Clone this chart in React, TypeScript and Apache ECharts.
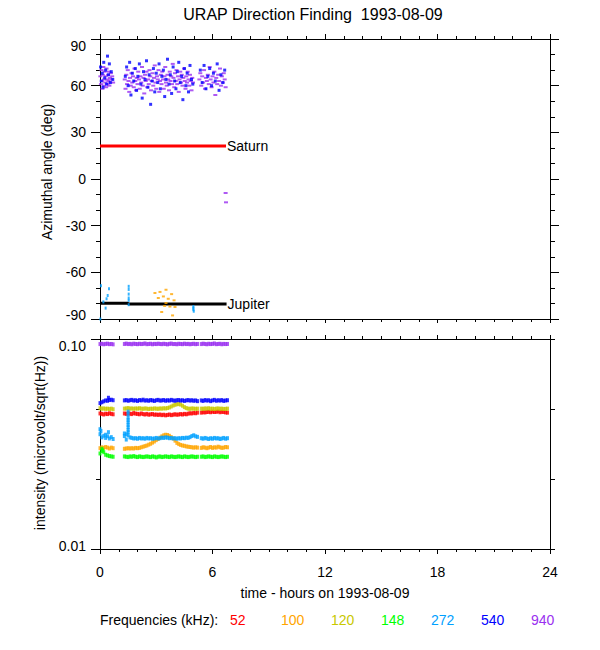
import React, { useEffect, useRef } from "react";
import * as echarts from "echarts";

// ---------- DATA ----------
const FREQ_LABELS = ["52", "100", "120", "148", "272", "540", "940"];
const FREQ_COLORS = ["#ff0000", "#ffa500", "#c8c800", "#00ff00", "#00a0ff", "#0000ff", "#9a30f0"];
const X_TICKS = [0, 6, 12, 18, 24];
const AZ_TICKS = [-90, -60, -30, 0, 30, 60, 90];

// azimuth scatter points [hours, deg]
const AZ_940 = [
  [0.02, 66], [0.05, 61], [0.08, 70], [0.1, 63], [0.13, 58], [0.15, 67], [0.18, 72], [0.2, 60], [0.22, 64], [0.25, 69],
  [0.28, 62], [0.3, 66], [0.33, 59], [0.35, 71], [0.38, 64], [0.4, 61], [0.43, 67], [0.45, 63], [0.48, 69], [0.5, 60],
  [0.53, 65], [0.55, 62], [0.58, 68], [0.6, 64], [0.65, 66], [0.7, 62],
  [1.32, 64], [1.36, 58], [1.4, 67], [1.44, 61], [1.48, 70], [1.52, 63], [1.56, 56], [1.6, 65], [1.64, 60], [1.68, 68],
  [1.72, 62], [1.76, 66], [1.8, 59], [1.84, 71], [1.88, 63], [1.92, 57], [1.96, 65], [2.0, 61], [2.04, 69], [2.08, 64],
  [2.12, 58], [2.16, 66], [2.2, 62], [2.24, 72], [2.28, 60], [2.32, 65], [2.36, 55], [2.4, 67], [2.44, 63], [2.48, 69],
  [2.52, 59], [2.56, 64], [2.6, 61], [2.64, 70], [2.68, 66], [2.72, 57], [2.76, 63], [2.8, 68], [2.84, 60], [2.88, 65],
  [2.92, 73], [2.96, 62], [3.0, 58], [3.04, 66], [3.08, 64], [3.12, 70], [3.16, 56], [3.2, 63], [3.24, 67], [3.28, 61],
  [3.32, 69], [3.36, 64], [3.4, 58], [3.44, 66], [3.48, 72], [3.52, 62], [3.56, 60], [3.6, 67], [3.64, 64], [3.68, 57],
  [3.72, 69], [3.76, 63], [3.8, 66], [3.84, 61], [3.88, 74], [3.92, 65], [3.96, 59], [4.0, 68], [4.04, 63], [4.08, 70],
  [4.12, 61], [4.16, 66], [4.2, 56], [4.24, 64], [4.28, 69], [4.32, 62], [4.36, 67], [4.4, 60], [4.44, 65], [4.48, 71],
  [4.52, 63], [4.56, 58], [4.6, 66], [4.64, 62], [4.68, 69], [4.72, 64], [4.76, 60], [4.8, 67], [4.84, 63], [4.88, 57],
  [4.92, 65], [4.96, 62],
  [5.3, 64], [5.35, 68], [5.4, 60], [5.45, 66], [5.5, 62], [5.55, 70], [5.6, 58], [5.65, 65], [5.7, 63], [5.75, 67],
  [5.8, 61], [5.85, 72], [5.9, 64], [5.95, 59], [6.0, 66], [6.05, 62], [6.1, 69], [6.15, 54], [6.2, 65], [6.25, 61],
  [6.3, 67], [6.35, 63], [6.4, 71], [6.45, 60], [6.5, 66], [6.55, 62], [6.6, 68], [6.65, 64], [6.7, 59],
  [6.7, -9], [6.72, -15],
];
const AZ_540 = [
  [0.03, 72], [0.07, 63], [0.12, 68], [0.16, 59], [0.2, 75], [0.25, 65], [0.3, 70], [0.35, 61], [0.4, 79], [0.45, 67],
  [0.5, 74], [0.55, 62], [0.6, 69], [0.68, 64],
  [1.35, 66], [1.42, 72], [1.5, 60], [1.58, 75], [1.65, 54], [1.72, 68], [1.8, 63], [1.88, 71], [1.95, 57], [2.02, 66],
  [2.1, 74], [2.18, 61], [2.25, 52], [2.32, 69], [2.4, 64], [2.48, 76], [2.55, 59], [2.62, 67], [2.7, 48], [2.78, 63],
  [2.85, 71], [2.92, 56], [3.0, 68], [3.08, 62], [3.15, 74], [3.22, 58], [3.3, 66], [3.38, 70], [3.45, 53], [3.52, 64],
  [3.6, 77], [3.68, 61], [3.75, 67], [3.82, 55], [3.9, 72], [3.98, 63], [4.05, 58], [4.12, 69], [4.2, 75], [4.28, 62],
  [4.35, 66], [4.42, 51], [4.5, 71], [4.58, 60], [4.65, 68], [4.72, 56], [4.8, 73], [4.88, 64], [4.95, 61],
  [5.35, 70], [5.45, 62], [5.55, 73], [5.65, 58], [5.75, 66], [5.85, 71], [5.95, 60], [6.05, 68], [6.15, 63], [6.25, 74],
  [6.35, 57], [6.45, 67], [6.55, 62], [6.65, 70],
];
const AZ_272 = [
  [0.02, -90], [0.05, -68.6], [0.18, -79], [0.3, -83], [0.35, -77], [0.41, -74.9], [0.48, -70.5],
  [1.53, -69], [1.53, -71], [1.53, -74], [1.53, -76.5], [1.53, -78], [1.53, -80.8],
  [4.98, -82], [4.98, -83], [4.98, -84], [5.0, -85],
];
const AZ_100 = [
  [2.93, -73.3], [3.2, -72.6], [3.52, -71.2], [3.82, -74], [3.38, -75.5], [3.11, -76.5], [3.64, -77], [3.95, -78],
  [3.52, -79.7], [3.29, -85.5], [3.87, -87.7], [3.73, -82], [3.45, -81.6], [4.0, -82.3],
];
const SATURN = [[0, 21.2], [6.72, 21.2]];
const JUPITER = [[0, -79.8], [1.5, -79.8], [1.5, -80.4], [6.75, -80.4]];

// intensity time samples (hours)
const T = [
  0, 0.1, 0.2, 0.3, 0.4, 0.5, 0.6, 0.7,
  1.3, 1.4, 1.5, 1.6, 1.7, 1.8, 1.9, 2.0, 2.1, 2.2, 2.3, 2.4, 2.5, 2.6, 2.7, 2.8, 2.9, 3.0,
  3.1, 3.2, 3.3, 3.4, 3.5, 3.6, 3.7, 3.8, 3.9, 4.0, 4.1, 4.2, 4.3, 4.4, 4.5, 4.6, 4.7, 4.8, 4.9, 5.0, 5.1, 5.2,
  5.4, 5.5, 5.6, 5.7, 5.8, 5.9, 6.0, 6.1, 6.2, 6.3, 6.4, 6.5, 6.6, 6.7, 6.8,
];
const I_52 = [
  0.0442, 0.0440, 0.0437, 0.0441, 0.0439, 0.0443, 0.0440, 0.0438,
  0.0442, 0.0440, 0.0443, 0.0441, 0.0439, 0.0444, 0.0441, 0.0440, 0.0438, 0.0442, 0.0439, 0.0437, 0.0440, 0.0436, 0.0438, 0.0439, 0.0436, 0.0437,
  0.0435, 0.0437, 0.0434, 0.0436, 0.0433, 0.0435, 0.0437, 0.0434, 0.0436, 0.0438, 0.0436, 0.0437, 0.0439, 0.0437, 0.0440, 0.0438, 0.0441, 0.0443, 0.0442, 0.0445, 0.0443, 0.0446,
  0.0446, 0.0448, 0.0447, 0.0449, 0.0450, 0.0448, 0.0451, 0.0449, 0.0450, 0.0452, 0.0448, 0.0450, 0.0449, 0.0447, 0.0446,
];
const I_100 = [
  0.0302, 0.0305, 0.0303, 0.0306, 0.0304, 0.0301, 0.0304, 0.0302,
  0.0300, 0.0301, 0.0302, 0.0301, 0.0302, 0.0301, 0.0303, 0.0302, 0.0303, 0.0305, 0.0307, 0.0309, 0.0311, 0.0314, 0.0317, 0.0321, 0.0325, 0.0330,
  0.0334, 0.0339, 0.0344, 0.0348, 0.0350, 0.0349, 0.0346, 0.0341, 0.0336, 0.0328, 0.0320, 0.0316, 0.0313, 0.0311, 0.0310, 0.0308, 0.0307, 0.0306, 0.0305, 0.0304, 0.0305, 0.0304,
  0.0303, 0.0305, 0.0304, 0.0302, 0.0304, 0.0306, 0.0303, 0.0305, 0.0304, 0.0307, 0.0305, 0.0303, 0.0304, 0.0306, 0.0305,
];
const I_120 = [
  0.0468, 0.0466, 0.0467, 0.0465, 0.0466, 0.0464, 0.0466, 0.0463,
  0.0466, 0.0467, 0.0469, 0.0466, 0.0467, 0.0465, 0.0467, 0.0466, 0.0468, 0.0466, 0.0465, 0.0467, 0.0466, 0.0464, 0.0466, 0.0465, 0.0467, 0.0466,
  0.0465, 0.0467, 0.0466, 0.0468, 0.0467, 0.0469, 0.0472, 0.0477, 0.0482, 0.0486, 0.0489, 0.0490, 0.0487, 0.0481, 0.0474, 0.0469, 0.0466, 0.0465, 0.0467, 0.0466, 0.0465, 0.0466,
  0.0466, 0.0465, 0.0467, 0.0466, 0.0468, 0.0465, 0.0466, 0.0464, 0.0466, 0.0467, 0.0465, 0.0466, 0.0464, 0.0465, 0.0466,
];
const I_148 = [
  0.0285, 0.0293, 0.0289, 0.0281, 0.0279, 0.0277, 0.0276, 0.0275,
  0.0276, 0.0275, 0.0274, 0.0276, 0.0275, 0.0277, 0.0275, 0.0274, 0.0276, 0.0275, 0.0274, 0.0275, 0.0276, 0.0275, 0.0274, 0.0276, 0.0275, 0.0273,
  0.0275, 0.0276, 0.0274, 0.0275, 0.0276, 0.0275, 0.0274, 0.0276, 0.0275, 0.0274, 0.0275, 0.0276, 0.0275, 0.0274, 0.0276, 0.0275, 0.0274, 0.0275, 0.0276, 0.0275, 0.0274, 0.0275,
  0.0275, 0.0276, 0.0274, 0.0275, 0.0276, 0.0275, 0.0274, 0.0276, 0.0275, 0.0274, 0.0275, 0.0276, 0.0275, 0.0274, 0.0275,
];
const I_272 = [
  0.0352, 0.0340, 0.0346, 0.0338, 0.0344, 0.0336, 0.0341, 0.0334,
  0.0345, 0.0352, 0.0348, 0.0340, 0.0338, 0.0336, 0.0337, 0.0335, 0.0338, 0.0336, 0.0337, 0.0335, 0.0338, 0.0336, 0.0337, 0.0335, 0.0336, 0.0338,
  0.0336, 0.0337, 0.0339, 0.0338, 0.0340, 0.0339, 0.0337, 0.0338, 0.0336, 0.0337, 0.0335, 0.0337, 0.0336, 0.0338, 0.0337, 0.0339, 0.0338, 0.0341, 0.0345, 0.0348, 0.0344, 0.0342,
  0.0337, 0.0335, 0.0338, 0.0336, 0.0334, 0.0337, 0.0335, 0.0338, 0.0336, 0.0337, 0.0334, 0.0336, 0.0338, 0.0335, 0.0337,
];
const I_540 = [
  0.0495, 0.0500, 0.0505, 0.0510, 0.0508, 0.0512, 0.0514, 0.0511,
  0.0510, 0.0512, 0.0508, 0.0511, 0.0513, 0.0509, 0.0511, 0.0507, 0.0512, 0.0510, 0.0514, 0.0509, 0.0511, 0.0508, 0.0512, 0.0510, 0.0507, 0.0511,
  0.0513, 0.0509, 0.0510, 0.0512, 0.0508, 0.0511, 0.0509, 0.0513, 0.0510, 0.0508, 0.0511, 0.0512, 0.0509, 0.0511, 0.0507, 0.0510, 0.0512, 0.0509, 0.0511, 0.0508, 0.0510, 0.0506,
  0.0510, 0.0507, 0.0512, 0.0509, 0.0511, 0.0506, 0.0510, 0.0513, 0.0508, 0.0511, 0.0509, 0.0512, 0.0507, 0.0510, 0.0511,
];
const I_940 = [
  0.0946, 0.0949, 0.0944, 0.0948, 0.0950, 0.0945, 0.0947, 0.0943,
  0.0947, 0.0951, 0.0946, 0.0948, 0.0944, 0.0950, 0.0947, 0.0945, 0.0949, 0.0946, 0.0948, 0.0952, 0.0945, 0.0947, 0.0949, 0.0944, 0.0948, 0.0946,
  0.0950, 0.0947, 0.0945, 0.0949, 0.0946, 0.0943, 0.0948, 0.0951, 0.0946, 0.0947, 0.0944, 0.0949, 0.0947, 0.0945, 0.0950, 0.0946, 0.0948, 0.0944, 0.0947, 0.0949, 0.0945, 0.0947,
  0.0946, 0.0950, 0.0947, 0.0944, 0.0949, 0.0946, 0.0948, 0.0952, 0.0945, 0.0947, 0.0949, 0.0944, 0.0948, 0.0946, 0.0947,
];
// extra scattered intensity samples [hours, value]
const I_272_EXTRA = [
  [0.0, 0.0372], [0.05, 0.0365], [0.3, 0.0350], [0.45, 0.0360],
  [1.5, 0.0451], [1.5, 0.0438], [1.5, 0.0422], [1.5, 0.0411], [1.5, 0.0401], [1.5, 0.0390], [1.5, 0.0380], [1.5, 0.0369], [1.5, 0.0360],
  [1.3, 0.0355], [1.4, 0.0332],
];
const I_148_EXTRA = [[0.1, 0.0300], [0.15, 0.0295]];
const I_540_EXTRA = [[0.45, 0.0525]];

const FONT = "Liberation Sans, Arial, Helvetica, sans-serif";

export default function App() {
  const ref = useRef<HTMLDivElement>(null);
  useEffect(() => {
    if (!ref.current) return;
    const chart = echarts.init(ref.current, undefined, { renderer: "svg" });
    const black = { color: "#000", width: 1 };
    const line = { show: true, onZero: false, lineStyle: black };
    const noSplit = { show: false };
    const labelFont = { color: "#000", fontSize: 14, fontFamily: FONT };
    // end labels are nudged inward like the original plot
    const edgeRich = {
      lo: { ...labelFont, padding: [13, 0, 0, 0] },
      hi: { ...labelFont, padding: [0, 0, 8, 0] },
      lo2: { ...labelFont, padding: [14, 0, 0, 0] },
      hi2: { ...labelFont, padding: [0, 0, 6, 0] },
    };
    const xBase = (gridIndex: number, position: string, len: number, minorLen: number, labels: boolean) => ({
      type: "value", gridIndex, position, min: X_TICKS[0], max: X_TICKS[X_TICKS.length - 1], interval: 6,
      axisLine: line,
      axisTick: { show: true, inside: false, length: len, lineStyle: black },
      minorTick: { show: true, splitNumber: 6, length: minorLen, lineStyle: black },
      splitLine: noSplit, minorSplitLine: noSplit,
      axisLabel: { show: labels, ...labelFont, margin: 16 },
    });
    const pairs = (vals: number[]) => T.map((t, i) => [t, vals[i]]);
    const inten = [I_52, I_100, I_120, I_148, I_272, I_540, I_940];
    const extras: Record<number, number[][]> = { 3: I_148_EXTRA, 4: I_272_EXTRA, 5: I_540_EXTRA };
    const intenSeries = inten.map((vals, k) => ({
      type: "scatter", xAxisIndex: 2, yAxisIndex: 2, silent: true,
      symbol: "rect", symbolSize: [3, 4],
      itemStyle: { color: FREQ_COLORS[k] },
      data: pairs(vals).concat(extras[k] || []),
    }));
    const azSeries = (data: number[][], color: string, size: number[], z: number) => ({
      type: "scatter", xAxisIndex: 0, yAxisIndex: 0, silent: true, z,
      symbol: "rect", symbolSize: size, itemStyle: { color }, data,
    });
    const textStyle = (text: string, x: number, y: number, fill: string, align = "left", size = 14) => ({
      type: "text", x, y,
      style: { text, fill, font: `${size}px ${FONT}`, textAlign: align, textVerticalAlign: "middle" },
    });
    const legendX = [230, 281, 331, 381, 431, 481, 531];
    chart.setOption({
      animation: false,
      backgroundColor: "#fff",
      grid: [
        { left: 100, right: 50, top: 39, height: 280 },
        { left: 100, right: 50, top: 339, height: 210 },
      ],
      xAxis: [
        xBase(0, "bottom", 4, 3, false),
        xBase(0, "top", 5, 3, false),
        xBase(1, "bottom", 5, 3, true),
        xBase(1, "top", 4, 3, false),
      ],
      yAxis: [
        {
          type: "value", gridIndex: 0, position: "left", min: AZ_TICKS[0], max: AZ_TICKS[AZ_TICKS.length - 1], interval: 30,
          axisLine: line, axisTick: { show: true, length: 9, lineStyle: black },
          minorTick: { show: true, splitNumber: 3, length: 4, lineStyle: black },
          splitLine: noSplit, minorSplitLine: noSplit,
          axisLabel: {
            ...labelFont, margin: 14, rich: edgeRich,
            formatter: (v: number) => (v === 90 ? "{lo|90}" : v === -90 ? "{hi|-90}" : String(v)),
          },
        },
        {
          type: "value", gridIndex: 0, position: "right", min: AZ_TICKS[0], max: AZ_TICKS[AZ_TICKS.length - 1], interval: 30,
          axisLine: line, axisTick: { show: true, length: 9, lineStyle: black },
          minorTick: { show: true, splitNumber: 3, length: 5, lineStyle: black },
          splitLine: noSplit, minorSplitLine: noSplit, axisLabel: { show: false },
        },
        {
          type: "log", logBase: 10, gridIndex: 1, position: "left", min: 0.01, max: 0.1,
          axisLine: line, axisTick: { show: true, length: 9, lineStyle: black },
          splitLine: noSplit,
          axisLabel: {
            ...labelFont, margin: 14, rich: edgeRich,
            formatter: (v: number) => (v > 0.05 ? `{lo2|${v.toFixed(2)}}` : `{hi2|${v.toFixed(2)}}`),
          },
        },
        {
          type: "value", gridIndex: 1, position: "left", min: 0, max: 3, interval: 1,
          axisLine: { show: false, onZero: false }, axisTick: { show: true, length: 4, lineStyle: black },
          splitLine: noSplit, axisLabel: { show: false },
        },
        {
          type: "value", gridIndex: 1, position: "right", min: 0, max: 3, interval: 1,
          axisLine: line, axisTick: { show: true, length: 5, lineStyle: black },
          splitLine: noSplit, axisLabel: { show: false },
        },
      ],
      series: [
        azSeries(AZ_940, FREQ_COLORS[6], [4, 2], 2),
        azSeries(AZ_540, FREQ_COLORS[5], [3, 3], 3),
        azSeries(AZ_272, FREQ_COLORS[4], [2, 3], 3),
        azSeries(AZ_100, FREQ_COLORS[1], [3, 2], 3),
        {
          type: "line", xAxisIndex: 0, yAxisIndex: 0, silent: true, symbol: "none", data: SATURN,
          lineStyle: { color: "#ff0000", width: 3 },
          endLabel: { show: true, formatter: "Saturn", ...labelFont, distance: 1 },
        },
        {
          type: "line", xAxisIndex: 0, yAxisIndex: 0, silent: true, symbol: "none", data: JUPITER,
          lineStyle: { color: "#000", width: 3 },
          endLabel: { show: true, formatter: "Jupiter", ...labelFont, distance: 1 },
        },
        ...intenSeries,
      ],
      graphic: [
        textStyle("URAP Direction Finding  1993-08-09", 313, 14, "#000", "center", 16),
        { ...textStyle("Azimuthal angle (deg)", 47, 172, "#000", "center"), rotation: Math.PI / 2 },
        { ...textStyle("intensity (microvolt/sqrt(Hz))", 40, 443, "#000", "center"), rotation: Math.PI / 2 },
        textStyle("time - hours on 1993-08-09", 325, 593, "#000", "center"),
        textStyle("Frequencies (kHz):", 100, 620, "#000", "left"),
        ...FREQ_LABELS.map((f, k) => textStyle(f, legendX[k], 620, FREQ_COLORS[k], "left")),
      ],
    });
    return () => chart.dispose();
  }, []);
  return <div ref={ref} style={{ position: "absolute", left: 0, top: 0, width: 600, height: 650 }} />;
}
